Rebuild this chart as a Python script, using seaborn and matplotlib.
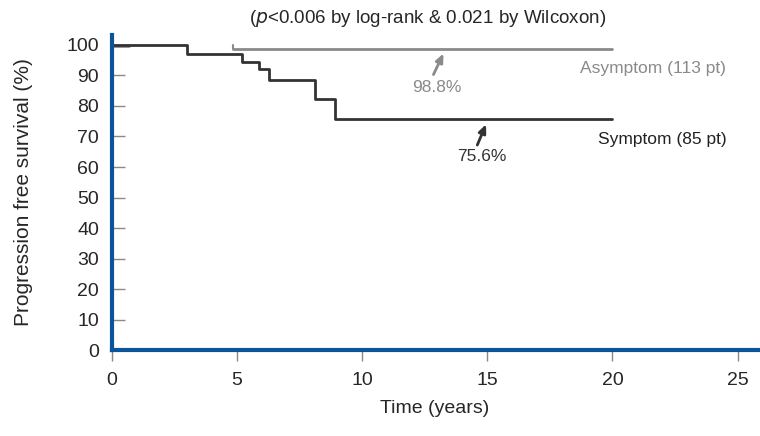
import matplotlib
matplotlib.use("Agg")
import matplotlib.pyplot as plt
import seaborn as sns
import pandas as pd

sns.set_style("white")
plt.rcParams['font.family'] = ['Liberation Sans', 'DejaVu Sans']

# Data
sym_time = [0, 3.0, 5.2, 5.9, 6.3, 8.1, 8.9, 20]
sym_surv = [100, 97.1, 94.3, 92.0, 88.6, 82.3, 75.6, 75.6]
asym_time = [4.85, 20]
asym_surv = [98.8, 98.8]
asym_early_time = [0, 0.7]
asym_early_surv = [99.8, 99.8]
xticks = [0, 5, 10, 15, 20, 25]
yticks = [0, 10, 20, 30, 40, 50, 60, 70, 80, 90, 100]

BLUE = "#0a5499"
DARK = "#333333"
GREY = "#8a8a8a"

fig = plt.figure(figsize=(7.6, 4.36), dpi=100)
ax = fig.add_axes([0.147, 0.197, 0.85, 0.723])

df_s = pd.DataFrame({"t": sym_time, "s": sym_surv})
df_a = pd.DataFrame({"t": asym_time, "s": asym_surv})
df_e = pd.DataFrame({"t": asym_early_time, "s": asym_early_surv})
sns.lineplot(data=df_e, x="t", y="s", ax=ax, color=GREY, lw=2, drawstyle="steps-post")
sns.lineplot(data=df_a, x="t", y="s", ax=ax, color=GREY, lw=2, drawstyle="steps-post")
sns.lineplot(data=df_s, x="t", y="s", ax=ax, color=DARK, lw=2, drawstyle="steps-post")
# censor tick at start of asymptom line
ax.plot([asym_time[0], asym_time[0]], [asym_surv[0], asym_surv[0] + 1.2], color=GREY, lw=1.5)

ax.set_xlim(0, 25.8)
ax.set_ylim(0, 103.3)
ax.set_xticks(xticks)
ax.set_yticks(yticks)
ax.tick_params(axis="x", bottom=True, direction="out", length=8, width=1, color="#888888", labelsize=14, pad=8)
ax.tick_params(axis="y", left=True, direction="in", length=9, width=1, color="#888888", labelsize=14, pad=9)
for s in ["top", "right"]:
    ax.spines[s].set_visible(False)
for s in ["left", "bottom"]:
    ax.spines[s].set_color(BLUE)
    ax.spines[s].set_linewidth(3)
ax.set_xlabel("Time (years)", fontsize=14, labelpad=8)
ax.set_ylabel("Progression free survival (%)", fontsize=15, labelpad=24)

fig.text(0.563, 0.958, r"($\it{p}$<0.006 by log-rank & 0.021 by Wilcoxon)", ha="center", va="center", fontsize=13.5)

arrow = dict(arrowstyle="-|>,head_length=0.5,head_width=0.22", lw=2, shrinkA=0, shrinkB=0)
ax.annotate("", xy=(13.25, 97.2), xytext=(12.85, 90.3), arrowprops=dict(arrow, color=GREY))
ax.text(13.0, 85.9, "98.8%", color=GREY, fontsize=12.5, ha="center", va="center")
ax.annotate("", xy=(14.95, 74.0), xytext=(14.6, 67.2), arrowprops=dict(arrow, color=DARK))
ax.text(14.77, 63.4, "75.6%", color=DARK, fontsize=12.5, ha="center", va="center")
ax.text(21.6, 92.4, "Asymptom (113 pt)", color=GREY, fontsize=12.5, ha="center", va="center")
ax.text(22.0, 69.1, "Symptom (85 pt)", color="#222222", fontsize=12.5, ha="center", va="center")

fig.savefig("out.png", dpi=100)
